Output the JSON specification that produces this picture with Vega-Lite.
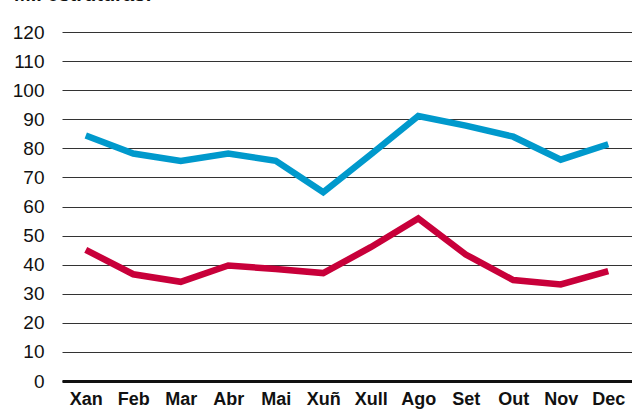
{
  "$schema": "https://vega.github.io/schema/vega-lite/v6.json",
  "width": 570,
  "height": 349,
  "autosize": "none",
  "padding": {"left": 62, "top": 32, "right": 0, "bottom": 28},
  "background": "white",
  "title": {
    "text": "Mil estruturas:",
    "anchor": "start",
    "frame": "group",
    "orient": "top",
    "offset": 18,
    "dx": -48,
    "font": "Liberation Sans",
    "fontSize": 20,
    "fontWeight": "bold",
    "color": "#111"
  },
  "config": {
    "view": {"stroke": null},
    "font": "Liberation Sans"
  },
  "data": {
    "values": [
      {"month": "Xan", "series": "A", "value": 84.4},
      {"month": "Feb", "series": "A", "value": 78.2},
      {"month": "Mar", "series": "A", "value": 75.7},
      {"month": "Abr", "series": "A", "value": 78.2},
      {"month": "Mai", "series": "A", "value": 75.7},
      {"month": "Xuñ", "series": "A", "value": 64.9},
      {"month": "Xull", "series": "A", "value": 77.9},
      {"month": "Ago", "series": "A", "value": 91.1},
      {"month": "Set", "series": "A", "value": 87.8},
      {"month": "Out", "series": "A", "value": 84.0},
      {"month": "Nov", "series": "A", "value": 76.1},
      {"month": "Dec", "series": "A", "value": 81.4},
      {"month": "Xan", "series": "B", "value": 45.1},
      {"month": "Feb", "series": "B", "value": 36.7},
      {"month": "Mar", "series": "B", "value": 34.1},
      {"month": "Abr", "series": "B", "value": 39.7},
      {"month": "Mai", "series": "B", "value": 38.5},
      {"month": "Xuñ", "series": "B", "value": 37.1},
      {"month": "Xull", "series": "B", "value": 46.0},
      {"month": "Ago", "series": "B", "value": 55.9},
      {"month": "Set", "series": "B", "value": 43.5},
      {"month": "Out", "series": "B", "value": 34.7},
      {"month": "Nov", "series": "B", "value": 33.2},
      {"month": "Dec", "series": "B", "value": 37.8}
    ]
  },
  "mark": {"type": "line", "strokeWidth": 6.5, "strokeJoin": "miter", "strokeCap": "butt"},
  "encoding": {
    "x": {
      "field": "month",
      "type": "ordinal",
      "sort": ["Xan", "Feb", "Mar", "Abr", "Mai", "Xuñ", "Xull", "Ago", "Set", "Out", "Nov", "Dec"],
      "scale": {"type": "point", "padding": 0.5},
      "axis": {
        "title": null,
        "labelAngle": 0,
        "ticks": false,
        "domain": true,
        "domainColor": "#111",
        "domainWidth": 3,
        "labelFont": "Liberation Sans",
        "labelFontSize": 18,
        "labelFontWeight": "bold",
        "labelColor": "#111",
        "labelPadding": 9,
        "grid": false
      }
    },
    "y": {
      "field": "value",
      "type": "quantitative",
      "scale": {"domain": [0, 120], "nice": false},
      "axis": {
        "title": null,
        "values": [0, 10, 20, 30, 40, 50, 60, 70, 80, 90, 100, 110, 120],
        "ticks": false,
        "domain": false,
        "grid": true,
        "gridColor": "#333",
        "gridWidth": 1,
        "gridOpacity": 1,
        "labelFont": "Liberation Sans",
        "labelFontSize": 19,
        "labelColor": "#111",
        "labelPadding": 18
      }
    },
    "color": {
      "field": "series",
      "type": "nominal",
      "scale": {"domain": ["A", "B"], "range": ["#0099CC", "#C8003A"]},
      "legend": null
    }
  }
}
